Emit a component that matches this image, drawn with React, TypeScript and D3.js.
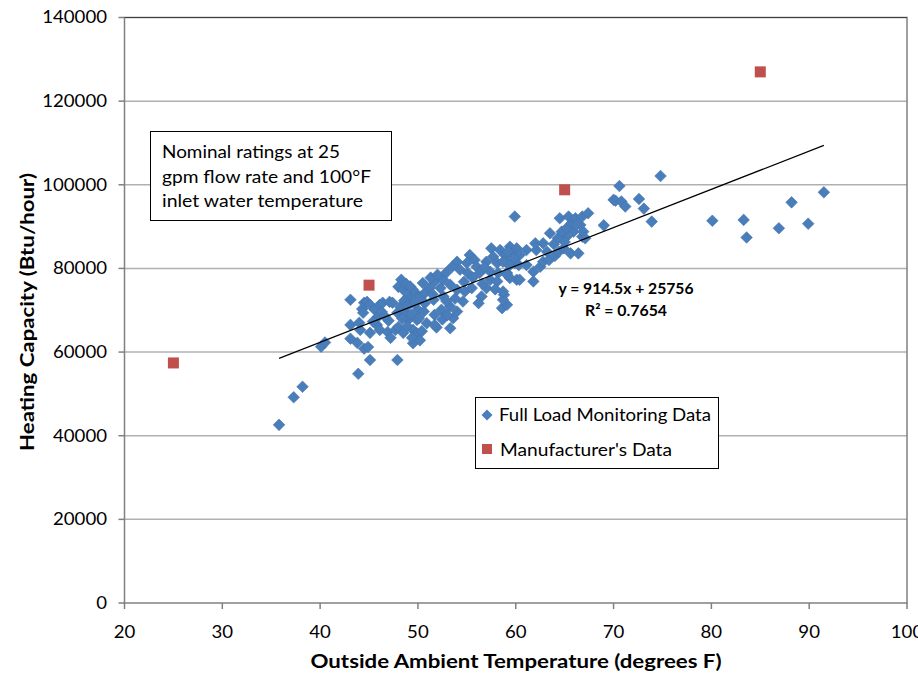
import React from 'react';
import * as d3 from 'd3';

// Full load monitoring data: [outside temp (F), heating capacity (Btu/hr)]
const monitoringData: [number, number][] = [
  [35.8, 42600], [37.3, 49200], [38.2, 51700], [40.1, 61300], [40.5, 62300],
  [43.1, 72500], [43.1, 66500], [43.1, 63200], [43.8, 62200], [43.9, 54800],
  [44.0, 67000], [44.1, 65300], [44.3, 70300], [44.4, 69400], [44.5, 71800],
  [44.8, 72000], [44.5, 60800], [44.9, 61200], [45.1, 58100], [45.1, 64600],
  [45.1, 71300], [45.6, 70100], [45.8, 66500], [45.9, 68400], [46.1, 71300],
  [46.1, 65300], [46.3, 69600], [46.4, 71800], [46.9, 64800], [47.1, 72000],
  [47.2, 63400], [47.4, 71800], [47.7, 65300], [47.9, 58100], [48.0, 66000],
  [47.9, 69400], [47.0, 67500], [46.6, 68600], [45.4, 67300],
  [48.3, 77300], [48.0, 75600], [48.5, 74900], [49.0, 73200], [49.7, 74100],
  [49.4, 71800], [48.2, 70800], [48.7, 69400], [49.0, 67700], [49.9, 67700],
  [50.0, 70100], [48.5, 64600], [49.5, 62100], [49.5, 65300], [49.9, 64500],
  [49.5, 74900], [49.7, 71700], [48.8, 76300], [49.2, 75700], [48.6, 72300],
  [48.9, 71000], [49.3, 69000], [48.4, 68000], [48.9, 66200], [49.4, 63400],
  [50.2, 62800],
  [50.2, 73300], [50.7, 74100], [51.2, 75300], [51.7, 76900], [52.3, 75300],
  [52.6, 77300], [53.3, 76100], [54.0, 74900], [54.0, 81600], [53.5, 80400],
  [54.3, 79700], [50.7, 71700], [51.6, 72500], [52.6, 73300], [53.3, 70900],
  [54.0, 69700], [53.6, 68100], [52.4, 70100], [51.7, 68900], [50.6, 69700],
  [50.1, 68100], [50.9, 66900], [51.9, 65900], [53.3, 65700], [51.7, 66500],
  [54.6, 72100], [54.8, 74500], [51.3, 77800], [52.0, 78500], [52.9, 79000],
  [50.5, 76500], [51.5, 73800], [52.9, 72200], [53.8, 72800], [50.4, 65000],
  [52.5, 67800], [53.0, 68800],
  [55.3, 83200], [55.8, 82000], [56.0, 80400], [55.0, 81300], [55.1, 78900],
  [56.3, 78900], [57.4, 79200], [57.4, 77300], [57.0, 75300], [56.5, 73300],
  [56.2, 71700], [55.5, 75300], [57.5, 84800], [57.7, 82800], [57.0, 81600],
  [58.1, 81300], [58.2, 78900], [58.1, 76900], [58.4, 84400], [58.8, 73700],
  [58.6, 70500], [59.1, 71300], [58.7, 72500], [54.7, 76800], [55.6, 77800],
  [56.6, 76300], [57.9, 75000], [56.8, 80300],
  [58.9, 83200], [59.4, 85200], [60.1, 84800], [59.8, 83200], [59.1, 81300],
  [59.9, 81300], [59.1, 78900], [59.4, 77700], [60.1, 77300], [59.2, 84000],
  [60.4, 83200], [59.8, 82400], [59.4, 80800], [58.7, 81600], [60.3, 80800],
  [61.1, 80800], [61.8, 79200], [62.5, 80400], [62.8, 81600], [60.4, 77300],
  [61.8, 76900], [59.1, 78500], [58.7, 74500], [59.9, 92400], [61.1, 84400],
  [62.1, 84400], [62.0, 86000], [62.8, 86000], [63.4, 82000], [64.0, 83000],
  [63.2, 84000], [64.4, 84000], [65.6, 83600], [66.4, 83600], [64.9, 84800],
  [63.5, 88400], [64.3, 87200], [65.2, 87600], [66.8, 87600], [64.7, 88800],
  [65.9, 88800], [66.9, 88800], [65.2, 89600], [66.6, 90400], [65.7, 90800],
  [64.5, 92000], [65.4, 92400], [66.1, 92000], [66.8, 92400], [67.4, 93200],
  [67.1, 87200], [66.2, 90400], [65.0, 86300], [63.9, 85800],
  [69.0, 90300], [70.0, 96400], [70.2, 96200], [70.8, 96000], [71.2, 94800],
  [70.6, 99700], [72.6, 96600], [73.1, 94300], [73.9, 91200], [74.8, 102100],
  [80.1, 91400], [83.3, 91600], [83.6, 87400], [86.9, 89600], [88.2, 95800],
  [89.9, 90700], [91.5, 98200],
];

const manufacturerTemps = [25, 45, 65, 85];
const manufacturerCaps = [57400, 76000, 98800, 127000];

const xTicks = [20, 30, 40, 50, 60, 70, 80, 90, 100];
const yTicks = [0, 20000, 40000, 60000, 80000, 100000, 120000, 140000];

const trendSlope = 914.5;
const trendIntercept = 25756;
const trendRange = [35.8, 91.5];

const noteLines = ['Nominal ratings at 25', 'gpm flow rate and 100°F', 'inlet water temperature'];
const noteWidths = [178, 209, 201];

const W = 918;
const H = 677;
const font = 'Lato, "Open Sans", sans-serif';

export default function App() {
  const x = d3.scaleLinear().domain([20, 100]).range([124.5, 907]);
  const y = d3.scaleLinear().domain([0, 140000]).range([603, 17.5]);

  const trend = d3.line<number>()
    .x(d => x(d))
    .y(d => y(trendSlope * d + trendIntercept));

  const diamond = (cx: number, cy: number, r: number) =>
    `M${cx},${cy - r}L${cx + r},${cy}L${cx},${cy + r}L${cx - r},${cy}Z`;

  return (
    <svg width={W} height={H} style={{ position: 'absolute', left: 0, top: 0, background: '#fff' }}>
      {/* gridlines */}
      {yTicks.slice(1, -1).map(t => (
        <line key={t} x1={x(20)} x2={x(100)} y1={y(t)} y2={y(t)} stroke="#b0b0b0" strokeWidth={1.5} />
      ))}
      {/* plot border */}
      <rect x={x(20)} y={y(140000)} width={x(100) - x(20)} height={y(0) - y(140000)}
        fill="none" stroke="#808080" strokeWidth={1.5} />
      <line x1={x(20)} x2={x(100)} y1={y(140000)} y2={y(140000)} stroke="#404040" strokeWidth={1.2} />

      {/* ticks */}
      {yTicks.map(t => (
        <g key={t}>
          <line x1={x(20) - 6} x2={x(20)} y1={y(t)} y2={y(t)} stroke="#808080" strokeWidth={1.5} />
          <text x={107} y={y(t)} dy="0.35em" textAnchor="end" fontFamily={font} fontSize={17}
            textLength={String(t).length * 10.8} lengthAdjust="spacingAndGlyphs" fill="#000">{t}</text>
        </g>
      ))}
      {xTicks.map(t => (
        <g key={t}>
          <line x1={x(t)} x2={x(t)} y1={y(0)} y2={y(0) + 6} stroke="#808080" strokeWidth={1.5} />
          <text x={x(t)} y={632} dy="0.35em" textAnchor="middle" fontFamily={font} fontSize={17}
            textLength={String(t).length * 10.8} lengthAdjust="spacingAndGlyphs" fill="#000">{t}</text>
        </g>
      ))}

      {/* axis titles */}
      <text x={516} y={662} dy="0.35em" textAnchor="middle" fontFamily={font} fontWeight="bold" fontSize={18}
        textLength={411} lengthAdjust="spacingAndGlyphs">
        Outside Ambient Temperature (degrees F)
      </text>
      <text transform={`translate(28,312) rotate(-90)`} dy="0.35em" textAnchor="middle"
        fontFamily={font} fontWeight="bold" fontSize={18} textLength={278} lengthAdjust="spacingAndGlyphs">
        Heating Capacity (Btu/hour)
      </text>

      {/* note box */}
      <rect x={150.5} y={131.5} width={241} height={89} fill="#fff" stroke="#000" strokeWidth={1} />
      {noteLines.map((l, i) => (
        <text key={i} x={162} y={152 + i * 24.5} dy="0.35em" fontFamily={font} fontSize={18} fill="#000"
          textLength={noteWidths[i]} lengthAdjust="spacingAndGlyphs">{l}</text>
      ))}

      {/* monitoring data */}
      {monitoringData.map((d, i) => (
        <path key={i} d={diamond(x(d[0]), y(d[1]), 5.8)} fill="#4a7ebb" stroke="#3f72b0" strokeWidth={0.6} />
      ))}

      {/* manufacturer data */}
      {manufacturerTemps.map((t, i) => (
        <rect key={t} x={x(t) - 5.5} y={y(manufacturerCaps[i]) - 5.5} width={11} height={11} fill="#c0504d" />
      ))}

      {/* trend line */}
      <path d={trend(trendRange) || ''} fill="none" stroke="#000" strokeWidth={1.2} />

      <text x={626} y={289} dy="0.35em" textAnchor="middle" fontFamily={font} fontWeight="bold" fontSize={15}
        textLength={135} lengthAdjust="spacingAndGlyphs">
        y = 914.5x + 25756
      </text>
      <text x={626} y={311} dy="0.35em" textAnchor="middle" fontFamily={font} fontWeight="bold" fontSize={15}
        textLength={82} lengthAdjust="spacingAndGlyphs">
        R² = 0.7654
      </text>

      {/* legend */}
      <rect x={475.5} y={397.5} width={243} height={71} fill="#fff" stroke="#000" strokeWidth={1} />
      <path d={diamond(487, 415, 5.5)} fill="#4a7ebb" />
      <text x={499} y={415} dy="0.35em" fontFamily={font} fontSize={18}
        textLength={212} lengthAdjust="spacingAndGlyphs">Full Load Monitoring Data</text>
      <rect x={482} y={444} width={10} height={10} fill="#c0504d" />
      <text x={500} y={450} dy="0.35em" fontFamily={font} fontSize={18}
        textLength={172} lengthAdjust="spacingAndGlyphs">Manufacturer's Data</text>
    </svg>
  );
}
